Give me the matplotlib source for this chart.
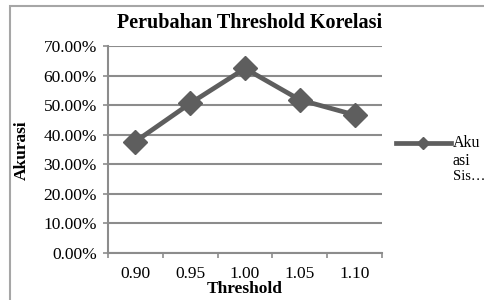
import matplotlib
matplotlib.use("Agg")
import matplotlib.pyplot as plt
import matplotlib.patches as patches
from matplotlib.lines import Line2D
import numpy as np

categories = ["0.90", "0.95", "1.00", "1.05", "1.10"]
akurasi = [37.7, 50.6, 62.4, 51.8, 46.7]
y_ticks = [0, 10, 20, 30, 40, 50, 60, 70]

plt.rcParams['font.family'] = ['Liberation Serif', 'DejaVu Serif']

fig = plt.figure(figsize=(4.85, 3.0), dpi=100)
# bingkai luar chart
fig.add_artist(patches.Rectangle((10 / 485, -0.1), 1.2, (294 + 30) / 300 - 0.0,
                                 transform=fig.transFigure, fill=False,
                                 ec='#a6a6a6', lw=1.5))

ax = fig.add_axes([108 / 485, 47 / 300, 274 / 485, 207 / 300])
x = np.arange(len(categories))
ax.plot(x, akurasi, color='#5e5e5e', lw=3.4, marker='D', ms=12,
        mec='#5e5e5e', mfc='#5e5e5e', zorder=3, clip_on=False)

ax.set_xlim(-0.5, len(categories) - 0.5)
ax.set_ylim(0, 70)
ax.set_yticks(y_ticks)
ax.set_yticklabels(["%.2f%%" % v for v in y_ticks], fontsize=12.5)
ax.yaxis.grid(True, color='#8c8c8c', lw=1.5)
ax.set_axisbelow(True)

ax.set_xticks(x)
ax.set_xticklabels(categories, fontsize=12.5)
ax.set_xticks(np.arange(len(categories) + 1) - 0.5, minor=True)
ax.tick_params(axis='x', which='major', length=0, pad=9)
ax.tick_params(axis='x', which='minor', length=3.6, width=1.2, color='#8c8c8c')
ax.tick_params(axis='y', length=3.6, width=1.2, color='#8c8c8c', pad=4.3)

for s in ['top', 'right']:
    ax.spines[s].set_visible(False)
for s in ['left', 'bottom']:
    ax.spines[s].set_color('#8c8c8c')
    ax.spines[s].set_linewidth(1.5)

fig.text(250 / 485, 1 - 23 / 300, "Perubahan Threshold Korelasi", ha='center',
         va='center', fontsize=14.5, fontweight='bold')
fig.text(245 / 485, 1 - 289 / 300, "Threshold", ha='center', va='center',
         fontsize=12.5, fontweight='bold')
fig.text(22 / 485, 1 - 150 / 300, "Akurasi", ha='center', va='center',
         rotation=90, fontsize=12.5, fontweight='bold')

# legend
fig.add_artist(Line2D([396 / 485, 451 / 485], [1 - 143 / 300, 1 - 143 / 300],
                      transform=fig.transFigure, color='#5e5e5e', lw=3.4))
fig.add_artist(Line2D([423 / 485], [1 - 143 / 300], transform=fig.transFigure,
                      color='#5e5e5e', marker='D', ms=6, ls='none'))
fig.text(453 / 485, 1 - 143 / 300, "Aku", ha='left', va='center', fontsize=11.5)
fig.text(453 / 485, 1 - 161 / 300, "asi", ha='left', va='center', fontsize=11.5)
fig.text(453 / 485, 1 - 177 / 300, "Sis…", ha='left', va='center', fontsize=10.5)

fig.savefig("out.png", dpi=100)
